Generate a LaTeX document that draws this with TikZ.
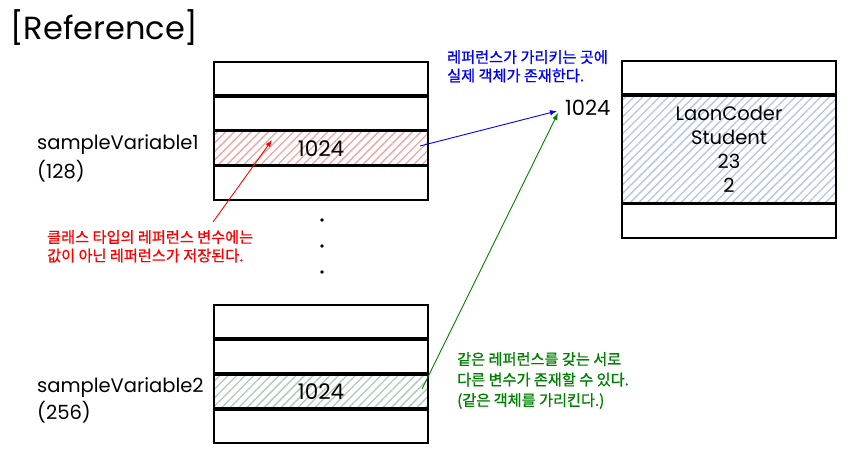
\documentclass[tikz,border=0pt]{standalone}
\usepackage{fontspec}
\setmainfont{Poppins}
\newfontfamily\kr[FakeBold=1]{Noto Sans CJK KR}
\usetikzlibrary{positioning,patterns.meta,arrows.meta}

\definecolor{hatchRed}{RGB}{240,165,165}
\definecolor{hatchGreen}{RGB}{175,200,185}
\definecolor{hatchBlue}{RGB}{180,195,228}
\definecolor{noteGreen}{RGB}{0,128,0}

\tikzset{
  cell/.style={draw, line width=1.6pt, minimum width=214pt, minimum height=33.4pt,
    inner sep=0pt, font=\fontsize{21.5}{21.5}\selectfont},
  hatch/.style={pattern={Lines[angle=45,distance=6pt,line width=1.3pt]}, pattern color=#1},
  label/.style={anchor=west, inner sep=0pt, font=\fontsize{19.5}{19.5}\selectfont},
  note/.style={anchor=north west, inner sep=0pt, align=left, text=#1,
    font=\kr\fontsize{15.2}{18.5}\selectfont},
  ptr/.style={draw=#1, line width=0.9pt, -{Latex[length=7pt,width=5.5pt]}}
}

\begin{document}
\begin{tikzpicture}[x=1pt,y=-1pt]
  \useasboundingbox (0,0) rectangle (853,451);

  %%%%% TITLE %%%%%
  \node[anchor=west, inner sep=0pt, font=\fontsize{32}{32}\selectfont] (title) at (10,28) {[Reference]};

  %%%%% sampleVariable1 %%%%%
  \node[cell] (a1) at (321,78.5) {};
  \node[cell, below=0pt of a1] (a2) {};
  \node[cell, hatch=hatchRed, below=0pt of a2] (a3) {1024};
  \node[cell, below=0pt of a3] (a4) {};

  \node[label] (var1) at (37,145) {sampleVariable1};
  \node[label] (var1addr) at (37,171) {(128)};

  %%%%% dots %%%%%
  \foreach \y in {220,246,272}
    \fill (322,\y) circle (1.8);

  %%%%% sampleVariable2 %%%%%
  \node[cell] (b1) at (321,321.5) {};
  \node[cell, below=0pt of b1] (b2) {};
  \node[cell, hatch=hatchGreen, below=0pt of b2] (b3) {1024};
  \node[cell, below=0pt of b3] (b4) {};

  \node[label] (var2) at (37,388) {sampleVariable2};
  \node[label] (var2addr) at (37,412) {(256)};

  %%%%% object %%%%%
  \node[cell] (o1) at (729,77.5) {};
  \node[cell, hatch=hatchBlue, minimum height=107pt, align=center,
    font=\fontsize{19.5}{24}\selectfont, below=0pt of o1] (o2)
    {LaonCoder\\Student\\23\\2};
  \node[cell, below=0pt of o2] (o3) {};

  \node[label, font=\fontsize{21}{21}\selectfont] (addr) at (565,108) {1024};

  %%%%% notes %%%%%
  \node[note=blue] (blueNote) at (447,50) {레퍼런스가 가리키는 곳에\\실제 객체가 존재한다.};
  \node[note=red] (redNote) at (47,230) {클래스 타입의 레퍼런스 변수에는\\값이 아닌 레퍼런스가 저장된다.};
  \node[note=noteGreen, font=\kr\fontsize{15.2}{20.5}\selectfont] (greenNote) at (457,352)
    {같은 레퍼런스를 갖는 서로\\다른 변수가 존재할 수 있다.\\(같은 객체를 가리킨다.)};

  %%%%% pointers %%%%%
  \coordinate (redStart) at (213,222);
  \coordinate (redEnd) at (272,140);
  \coordinate (blueStart) at (420,146);
  \coordinate (greenStart) at (422,389);
  \coordinate (addrIn) at ([xshift=-8pt,yshift=-3pt]addr.west);
  \coordinate (addrIn2) at ([xshift=-7pt,yshift=-5pt]addr.west);

  \draw[ptr=red] (redStart) -- (redEnd);
  \draw[ptr=blue] (blueStart) -- (addrIn);
  \draw[ptr=noteGreen] (greenStart) -- (addrIn2);
\end{tikzpicture}
\end{document}
